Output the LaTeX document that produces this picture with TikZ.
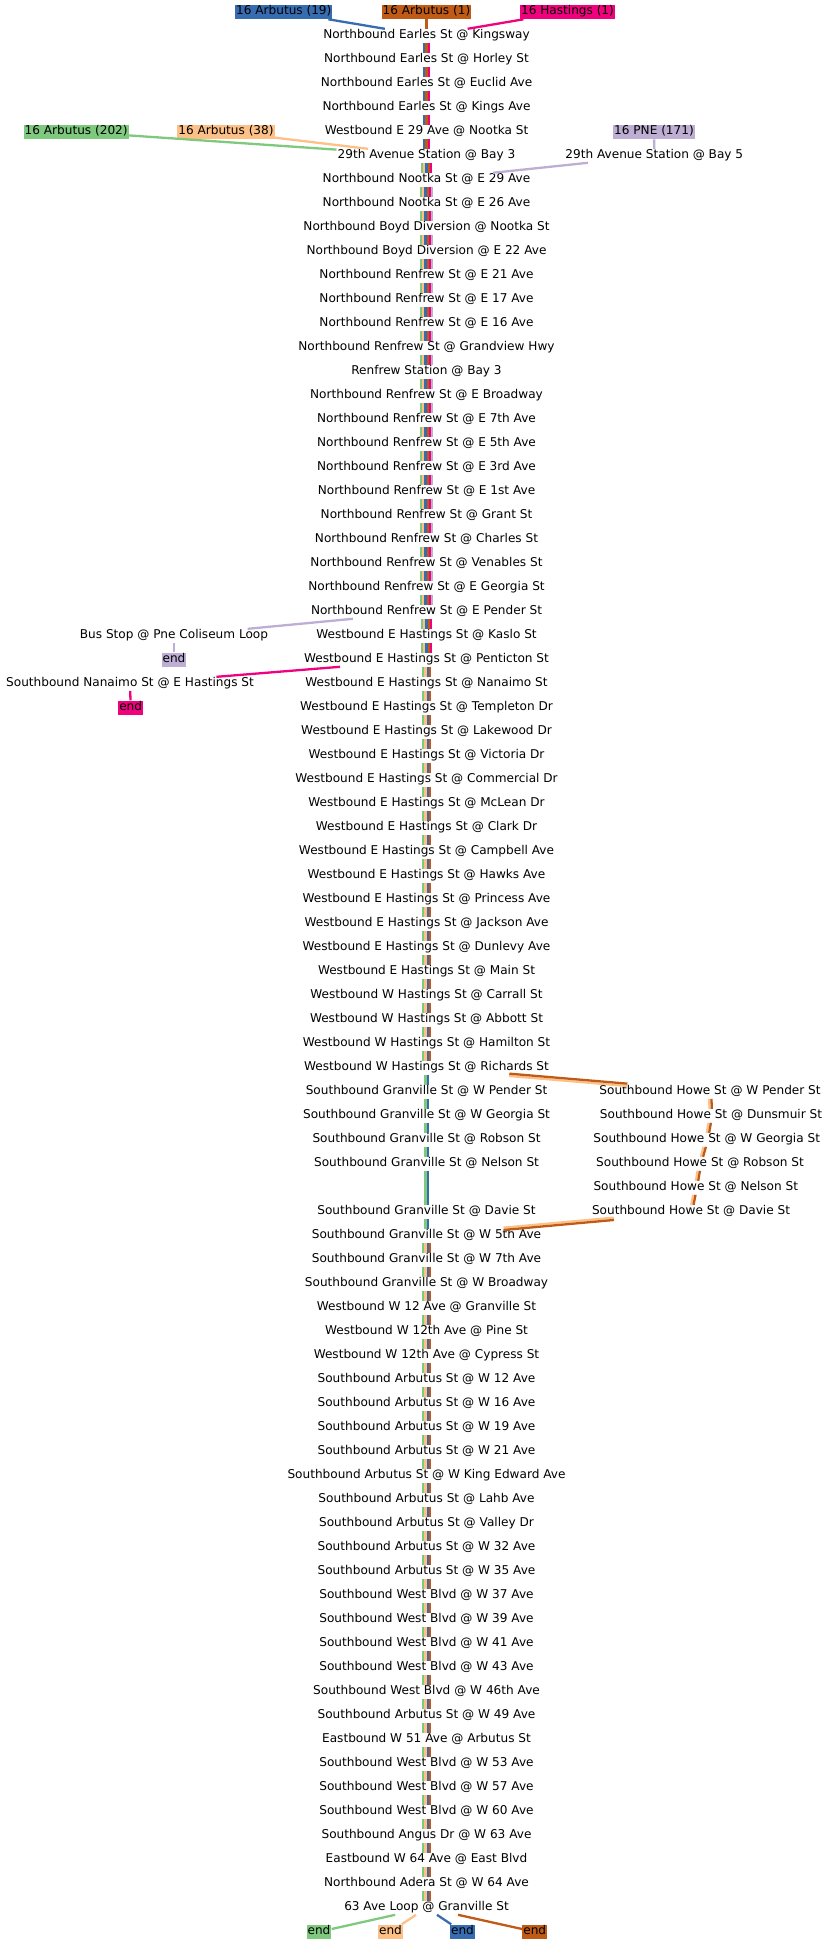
\documentclass[tikz,border=0pt]{standalone}
\usepackage{xcolor}
\usepackage{fontspec}
\setmainfont{DejaVu Sans}
\usepackage{tikz}

\definecolor{rtgreen}{HTML}{7FC97F}
\definecolor{rtorange}{HTML}{FDC086}
\definecolor{rtblue}{HTML}{386CB0}
\definecolor{rtbrown}{HTML}{BF5B17}
\definecolor{rtpink}{HTML}{F0027F}
\definecolor{rtpurple}{HTML}{BEAED4}

\tikzset{
  stop/.style={inner xsep=1pt, inner ysep=0.8pt, text height=9pt, text depth=3pt,
    font=\fontsize{12.1}{14}\selectfont},
  routetag/.style={stop, fill=#1, inner ysep=1.3pt},
  stripe/.style={line width=2.3pt}
}

% parallel coloured stripes between two stops of the trunk
\newcommand{\bundle}[3]{%
  \foreach \col [count=\k] in {#3} {\xdef\nstripes{\k}}%
  \foreach \col [count=\k] in {#3} {%
    \pgfmathsetmacro\off{(\k-(\nstripes+1)/2)*2.3}%
    \draw[stripe, \col, transform canvas={xshift=\off pt}] (#1) -- (#2);
  }%
}
% orange + brown pair on the Howe St detour
\newcommand{\twin}[4]{%
  \draw[stripe, rtorange, transform canvas={shift={(#3,#4)}}] (#1) -- (#2);
  \draw[stripe, rtbrown, transform canvas={shift={({-(#3)},{-(#4)})}}] (#1) -- (#2);
}

\begin{document}
\begin{tikzpicture}[x=1pt, y=-1pt]
    \useasboundingbox (0,0) rectangle (830,1944);

    \foreach \t [count=\r] in {Northbound Earles St @ Kingsway,
      Northbound Earles St @ Horley St,
      Northbound Earles St @ Euclid Ave,
      Northbound Earles St @ Kings Ave,
      Westbound E 29 Ave @ Nootka St,
      29th Avenue Station @ Bay 3,
      Northbound Nootka St @ E 29 Ave,
      Northbound Nootka St @ E 26 Ave,
      Northbound Boyd Diversion @ Nootka St,
      Northbound Boyd Diversion @ E 22 Ave,
      Northbound Renfrew St @ E 21 Ave,
      Northbound Renfrew St @ E 17 Ave,
      Northbound Renfrew St @ E 16 Ave,
      Northbound Renfrew St @ Grandview Hwy,
      Renfrew Station @ Bay 3,
      Northbound Renfrew St @ E Broadway,
      Northbound Renfrew St @ E 7th Ave,
      Northbound Renfrew St @ E 5th Ave,
      Northbound Renfrew St @ E 3rd Ave,
      Northbound Renfrew St @ E 1st Ave,
      Northbound Renfrew St @ Grant St,
      Northbound Renfrew St @ Charles St,
      Northbound Renfrew St @ Venables St,
      Northbound Renfrew St @ E Georgia St,
      Northbound Renfrew St @ E Pender St,
      Westbound E Hastings St @ Kaslo St,
      Westbound E Hastings St @ Penticton St,
      Westbound E Hastings St @ Nanaimo St,
      Westbound E Hastings St @ Templeton Dr,
      Westbound E Hastings St @ Lakewood Dr,
      Westbound E Hastings St @ Victoria Dr,
      Westbound E Hastings St @ Commercial Dr,
      Westbound E Hastings St @ McLean Dr,
      Westbound E Hastings St @ Clark Dr,
      Westbound E Hastings St @ Campbell Ave,
      Westbound E Hastings St @ Hawks Ave,
      Westbound E Hastings St @ Princess Ave,
      Westbound E Hastings St @ Jackson Ave,
      Westbound E Hastings St @ Dunlevy Ave,
      Westbound E Hastings St @ Main St,
      Westbound W Hastings St @ Carrall St,
      Westbound W Hastings St @ Abbott St,
      Westbound W Hastings St @ Hamilton St,
      Westbound W Hastings St @ Richards St,
      Southbound Granville St @ W Pender St,
      Southbound Granville St @ W Georgia St,
      Southbound Granville St @ Robson St,
      Southbound Granville St @ Nelson St}
      \node[stop] (s\r) at (426.5,{35.8+24*(\r-1)}) {\t};

    \foreach \t [count=\r from 50] in {Southbound Granville St @ Davie St,
      Southbound Granville St @ W 5th Ave,
      Southbound Granville St @ W 7th Ave,
      Southbound Granville St @ W Broadway,
      Westbound W 12 Ave @ Granville St,
      Westbound W 12th Ave @ Pine St,
      Westbound W 12th Ave @ Cypress St,
      Southbound Arbutus St @ W 12 Ave,
      Southbound Arbutus St @ W 16 Ave,
      Southbound Arbutus St @ W 19 Ave,
      Southbound Arbutus St @ W 21 Ave,
      Southbound Arbutus St @ W King Edward Ave,
      Southbound Arbutus St @ Lahb Ave,
      Southbound Arbutus St @ Valley Dr,
      Southbound Arbutus St @ W 32 Ave,
      Southbound Arbutus St @ W 35 Ave,
      Southbound West Blvd @ W 37 Ave,
      Southbound West Blvd @ W 39 Ave,
      Southbound West Blvd @ W 41 Ave,
      Southbound West Blvd @ W 43 Ave,
      Southbound West Blvd @ W 46th Ave,
      Southbound Arbutus St @ W 49 Ave,
      Eastbound W 51 Ave @ Arbutus St,
      Southbound West Blvd @ W 53 Ave,
      Southbound West Blvd @ W 57 Ave,
      Southbound West Blvd @ W 60 Ave,
      Southbound Angus Dr @ W 63 Ave,
      Eastbound W 64 Ave @ East Blvd,
      Northbound Adera St @ W 64 Ave,
      63 Ave Loop @ Granville St}
      \node[stop] (s\r) at (426.5,{35.8+24*(\r-1)}) {\t};

    % side stops
    \node[stop] (bay5) at (654.3,155.8) {29th Avenue Station @ Bay 5};
    \node[stop] (coliseum) at (174,635.8) {Bus Stop @ Pne Coliseum Loop};
    \node[stop] (nanaimo) at (130,683.8) {Southbound Nanaimo St @ E Hastings St};
    \node[stop] (hpender) at (710,1091.8) {Southbound Howe St @ W Pender St};
    \node[stop] (hdunsmuir) at (711,1115.8) {Southbound Howe St @ Dunsmuir St};
    \node[stop] (hgeorgia) at (706.7,1139.8) {Southbound Howe St @ W Georgia St};
    \node[stop] (hrobson) at (700,1163.8) {Southbound Howe St @ Robson St};
    \node[stop] (hnelson) at (695.8,1187.8) {Southbound Howe St @ Nelson St};
    \node[stop] (hdavie) at (691,1211.8) {Southbound Howe St @ Davie St};

    % route tags and ends
    \node[routetag=rtblue] (t19) at (283.8,11.8) {16 Arbutus (19)};
    \node[routetag=rtbrown] (t1) at (426.5,11.8) {16 Arbutus (1)};
    \node[routetag=rtpink] (thast) at (567.5,11.8) {16 Hastings (1)};
    \node[routetag=rtgreen] (t202) at (76.2,131.8) {16 Arbutus (202)};
    \node[routetag=rtorange] (t38) at (226,131.8) {16 Arbutus (38)};
    \node[routetag=rtpurple] (tpne) at (654,131.8) {16 PNE (171)};
    \node[routetag=rtpurple] (endpne) at (174,659.8) {end};
    \node[routetag=rtpink] (endhast) at (130.7,707.8) {end};
    \node[routetag=rtgreen] (end202) at (319,1931.8) {end};
    \node[routetag=rtorange] (end38) at (390.5,1931.8) {end};
    \node[routetag=rtblue] (end19) at (462.5,1931.8) {end};
    \node[routetag=rtbrown] (end1) at (534.7,1931.8) {end};

    % trunk
    \foreach \a [evaluate=\a as \b using int(\a+1)] in {1,...,5}
      \bundle{s\a}{s\b}{rtblue,rtbrown,rtpink};
    \bundle{s6}{s7}{rtgreen,rtorange,rtblue,rtbrown,rtpink}
    \foreach \a [evaluate=\a as \b using int(\a+1)] in {7,...,24}
      \bundle{s\a}{s\b}{rtgreen,rtorange,rtblue,rtbrown,rtpink,rtpurple};
    \foreach \a [evaluate=\a as \b using int(\a+1)] in {25,26}
      \bundle{s\a}{s\b}{rtgreen,rtorange,rtblue,rtbrown,rtpink};
    \foreach \a [evaluate=\a as \b using int(\a+1)] in {27,...,43}
      \bundle{s\a}{s\b}{rtgreen,rtorange,rtblue,rtbrown};
    \foreach \a [evaluate=\a as \b using int(\a+1)] in {44,...,47}
      \bundle{s\a}{s\b}{rtgreen,rtblue};
    \bundle{s48}{s50}{rtgreen,rtblue}
    \bundle{s50}{s51}{rtgreen,rtblue}
    \foreach \a [evaluate=\a as \b using int(\a+1)] in {51,...,78}
      \bundle{s\a}{s\b}{rtgreen,rtorange,rtblue,rtbrown};

    % branches
    \draw[stripe, rtblue] (t19) -- (s1);
    \draw[stripe, rtbrown] (t1) -- (s1);
    \draw[stripe, rtpink] (thast) -- (s1);
    \draw[stripe, rtgreen] (t202) -- (s6);
    \draw[stripe, rtorange] (t38) -- (s6);
    \draw[stripe, rtpurple] (tpne) -- (bay5);
    \draw[stripe, rtpurple] (bay5) -- (s7);
    \draw[stripe, rtpurple] (s25) -- (coliseum);
    \draw[stripe, rtpurple] (coliseum) -- (endpne);
    \draw[stripe, rtpink] (s27) -- (nanaimo);
    \draw[stripe, rtpink] (nanaimo) -- (endhast);
    \twin{s44}{hpender}{-0.1}{1.15}
    \twin{hpender}{hdunsmuir}{-1.15}{0}
    \twin{hdunsmuir}{hgeorgia}{-1.15}{0}
    \twin{hgeorgia}{hrobson}{-1.15}{0}
    \twin{hrobson}{hnelson}{-1.15}{0}
    \twin{hnelson}{hdavie}{-1.15}{0}
    \twin{hdavie}{s51}{-0.1}{-1.15}
    \draw[stripe, rtgreen] (s79) -- (end202);
    \draw[stripe, rtorange] (s79) -- (end38);
    \draw[stripe, rtblue] (s79) -- (end19);
    \draw[stripe, rtbrown] (s79) -- (end1);
\end{tikzpicture}
\end{document}
